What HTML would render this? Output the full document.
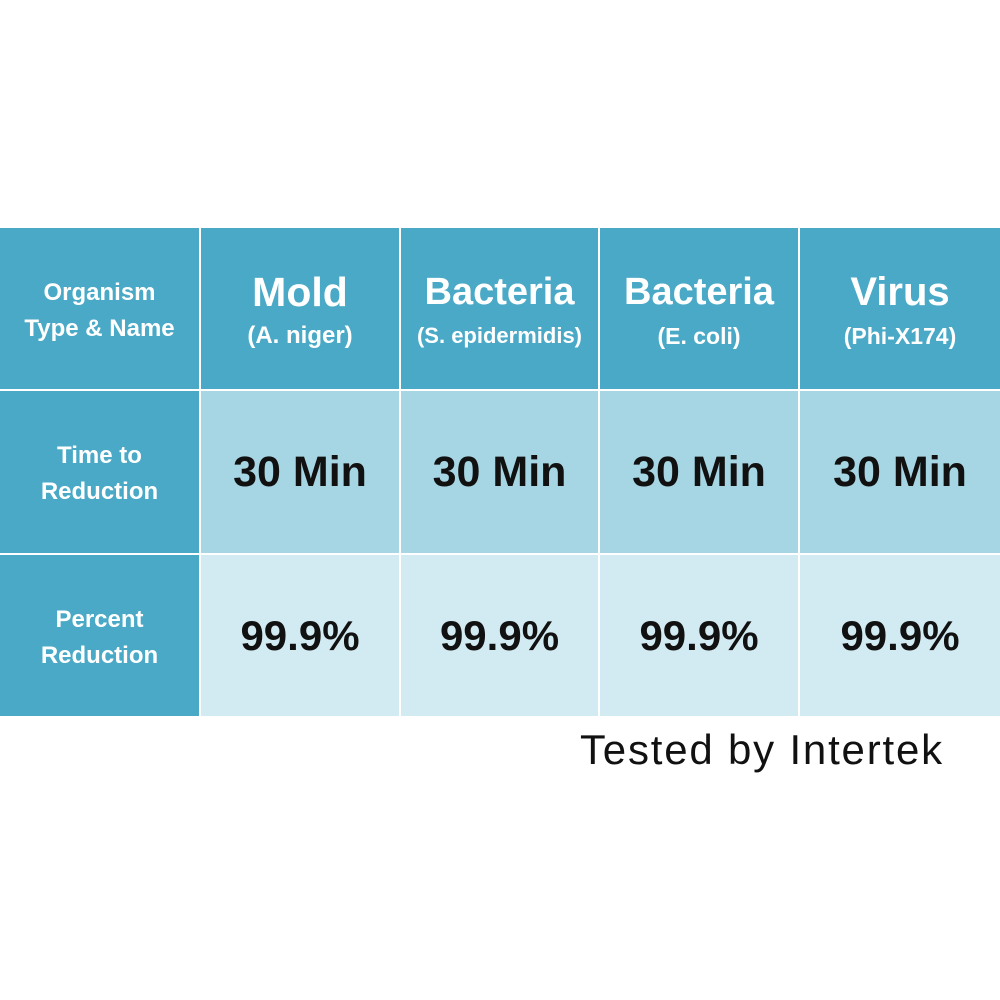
<!DOCTYPE html>
<html><head><style>
body{margin:0;width:1000px;height:1000px;background:#fff;position:relative;overflow:hidden;font-family:"Liberation Sans","DejaVu Sans",sans-serif}
.c{position:absolute;display:flex;flex-direction:column;align-items:center;justify-content:center;text-align:center;font-weight:bold}
.h{background:#4aa9c6;color:#fff}
.r2{background:#a6d6e4;color:#111}
.r3{background:#d2eaf2;color:#111}
.lab{font-size:24px;line-height:36px;color:#fff;padding-top:4px;box-sizing:border-box}
.big{font-size:38px;line-height:44px}
.sub{font-size:23px;line-height:44px}
.val{font-size:43px}
.pct{font-size:42px}
.hh{padding-top:10px;box-sizing:border-box}
</style></head><body>
<div class="c h lab" style="left:0;top:228px;width:199px;height:161px">Organism<br>Type &amp; Name</div>
<div class="c h hh" style="left:201px;top:228px;width:198px;height:161px"><div class="big" style="font-size:41px">Mold</div><div class="sub" style="font-size:24px">(A. niger)</div></div>
<div class="c h hh" style="left:401px;top:228px;width:197px;height:161px"><div class="big">Bacteria</div><div class="sub" style="font-size:22px">(S. epidermidis)</div></div>
<div class="c h hh" style="left:600px;top:228px;width:198px;height:161px"><div class="big">Bacteria</div><div class="sub">(E. coli)</div></div>
<div class="c h hh" style="left:800px;top:228px;width:200px;height:161px"><div class="big" style="font-size:40px">Virus</div><div class="sub">(Phi-X174)</div></div>

<div class="c h lab" style="left:0;top:391px;width:199px;height:162px">Time to<br>Reduction</div>
<div class="c r2 val" style="left:201px;top:391px;width:198px;height:162px">30 Min</div>
<div class="c r2 val" style="left:401px;top:391px;width:197px;height:162px">30 Min</div>
<div class="c r2 val" style="left:600px;top:391px;width:198px;height:162px">30 Min</div>
<div class="c r2 val" style="left:800px;top:391px;width:200px;height:162px">30 Min</div>

<div class="c h lab" style="left:0;top:555px;width:199px;height:161px">Percent<br>Reduction</div>
<div class="c r3 pct" style="left:201px;top:555px;width:198px;height:161px">99.9%</div>
<div class="c r3 pct" style="left:401px;top:555px;width:197px;height:161px">99.9%</div>
<div class="c r3 pct" style="left:600px;top:555px;width:198px;height:161px">99.9%</div>
<div class="c r3 pct" style="left:800px;top:555px;width:200px;height:161px">99.9%</div>

<div style="position:absolute;left:580px;top:726px;font-size:42px;letter-spacing:1.8px;color:#111;white-space:nowrap">Tested by Intertek</div>
</body></html>
